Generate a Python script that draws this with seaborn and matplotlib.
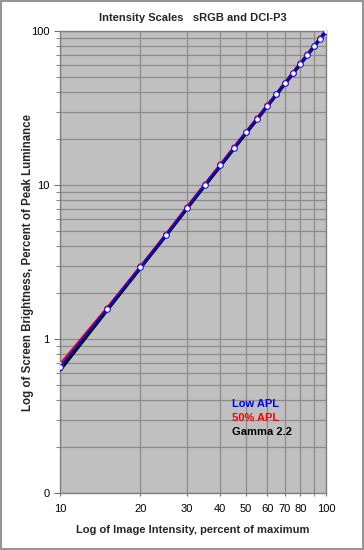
import numpy as np
import pandas as pd
import matplotlib.pyplot as plt
import seaborn as sns
from matplotlib.patches import Rectangle

plt.switch_backend("Agg")

# image intensity, percent of maximum
intensity = [10, 15, 20, 25, 30, 35, 40, 45, 50, 55, 60, 65, 70, 75, 80, 85, 90, 95, 100]
# screen brightness, percent of peak luminance
gamma_22 = [0.63, 1.54, 2.89, 4.71, 7.07, 9.95, 13.3, 17.3, 21.8, 26.8, 32.5,
            38.7, 45.6, 53.1, 61.2, 69.9, 79.3, 89.3, 100]
low_apl = [0.66, 1.57, 2.92, 4.75, 7.14, 10.05, 13.45, 17.45, 22.0, 27.0, 32.7,
           38.9, 45.8, 53.3, 61.4, 70.1, 79.5, 89.4, 100]
apl_50 = [0.69, 1.60, 2.96, 4.81, 7.24, 10.2, 13.65, 17.65, 22.25, 27.3, 33.0,
          39.2, 46.1, 53.6, 61.7, 70.4, 79.8, 89.6, 100]

x_ticks = [10, 20, 30, 40, 50, 60, 70, 80, 100]
y_ticks = [0.1, 1, 10, 100]
y_labels = ["0", "1", "10", "100"]

sns.set_style("ticks")
plt.rcParams["font.family"] = ["Liberation Sans", "DejaVu Sans"]

df = pd.DataFrame({"intensity": intensity, "Gamma 2.2": gamma_22,
                   "Low APL": low_apl, "50% APL": apl_50})

fig = plt.figure(figsize=(3.64, 5.5), dpi=100)
ax = fig.add_axes([0.165, 0.1036, 0.731, 0.84])
ax.set_facecolor("#c0c0c0")

ax.set_xscale("log")
ax.set_yscale("log")

sns.lineplot(data=df, x="intensity", y="Gamma 2.2", color="black", lw=2.6, ax=ax, zorder=3)
sns.lineplot(data=df, x="intensity", y="50% APL", color="red", lw=1.4, ax=ax, zorder=4,
             marker="o", markersize=4, markerfacecolor="white", markeredgecolor="red",
             markeredgewidth=0.7)
sns.lineplot(data=df, x="intensity", y="Low APL", color="#0000ff", lw=1.4, ax=ax, zorder=5,
             marker="o", markersize=4, markerfacecolor="white", markeredgecolor="#0000ff",
             markeredgewidth=0.7)

ax.set_xlim(10, 100)
ax.set_ylim(0.1, 100)

ax.set_xticks(x_ticks)
ax.set_xticklabels([str(t) for t in x_ticks])
ax.set_xticks([90], minor=True)
ax.set_yticks(y_ticks)
ax.set_yticklabels(y_labels)
ax.yaxis.set_minor_locator(plt.matplotlib.ticker.LogLocator(base=10, subs=np.arange(2, 10)))
ax.yaxis.set_minor_formatter(plt.NullFormatter())
ax.xaxis.set_minor_formatter(plt.NullFormatter())

ax.grid(True, which="both", color="#8c8c8c", lw=0.9)
ax.tick_params(axis="both", which="both", direction="out", colors="#707070",
               labelcolor="black", labelsize=8)
ax.tick_params(axis="y", which="major", length=4)
ax.tick_params(axis="y", which="minor", length=3)
ax.tick_params(axis="x", which="both", length=2, pad=6)
for s in ax.spines.values():
    s.set_color("#808080")
    s.set_linewidth(1.0)

ax.set_title("Intensity Scales   sRGB and DCI-P3", fontsize=8, fontweight="bold", pad=7)
ax.set_xlabel("Log of Image Intensity, percent of maximum", fontsize=8, fontweight="bold",
              labelpad=8)
ax.set_ylabel("Log of Screen Brightness, Percent of Peak Luminance", fontsize=8.3,
              fontweight="bold", labelpad=-2)

ax.text(0.647, 0.193, "Low APL", color="#0000ff", fontsize=8, fontweight="bold",
        transform=ax.transAxes, va="center")
ax.text(0.647, 0.162, "50% APL", color="red", fontsize=8, fontweight="bold",
        transform=ax.transAxes, va="center")
ax.text(0.647, 0.132, "Gamma 2.2", color="black", fontsize=8, fontweight="bold",
        transform=ax.transAxes, va="center")

fig.patches.append(Rectangle((0.003, 0.002), 0.994, 0.996, transform=fig.transFigure,
                             fill=False, edgecolor="#808080", lw=1.2))

fig.savefig("out.png", dpi=100)
